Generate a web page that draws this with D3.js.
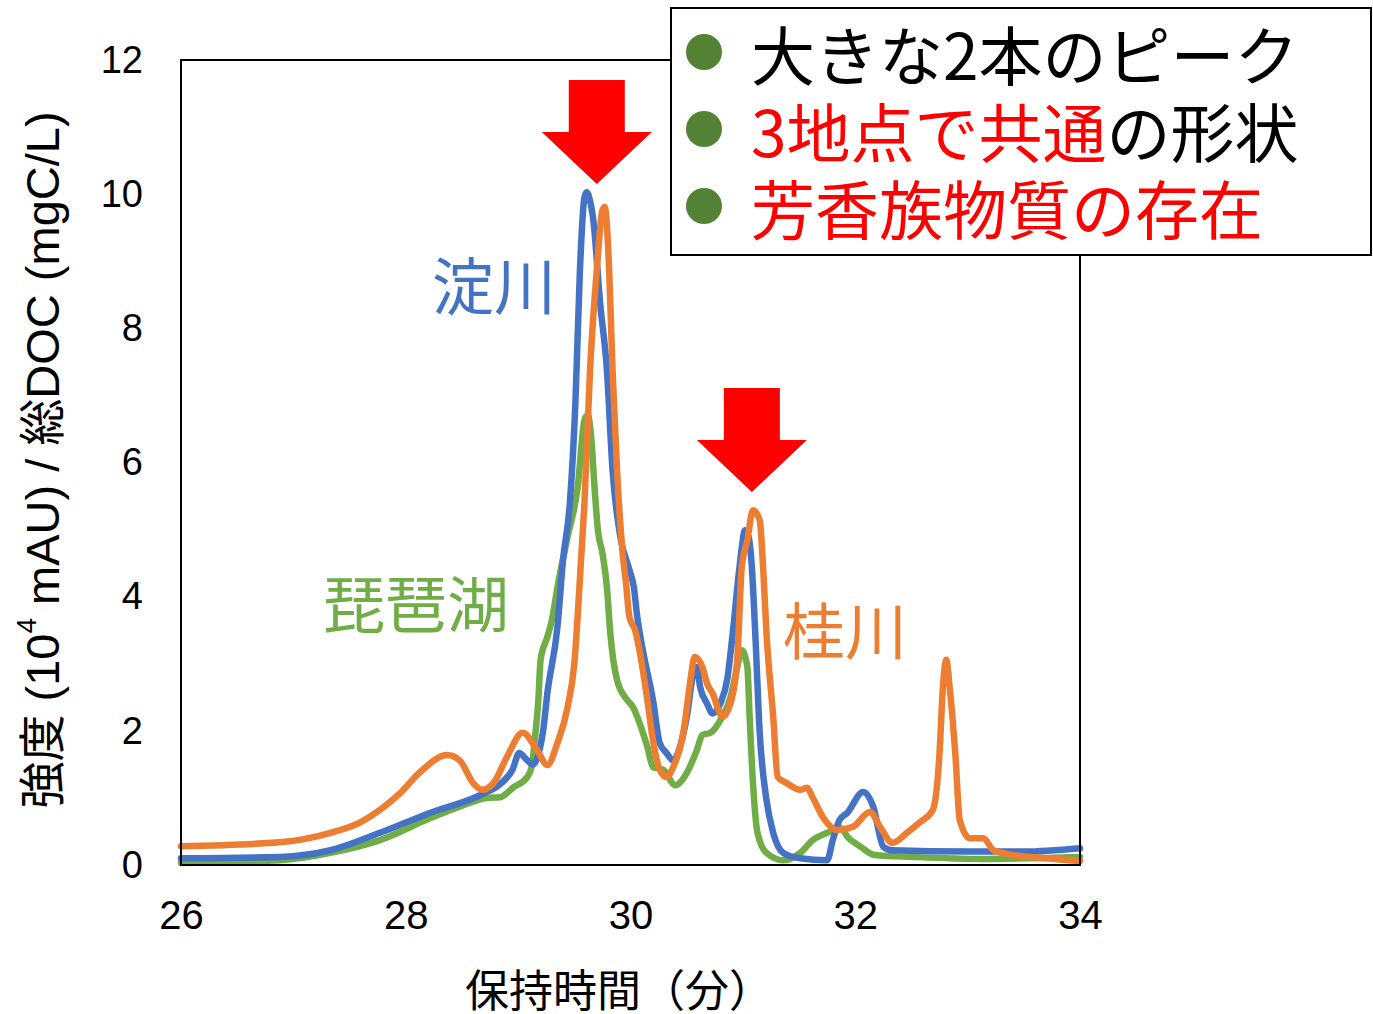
<!DOCTYPE html>
<html>
<head>
<meta charset="utf-8">
<script src="https://cdn.jsdelivr.net/npm/d3@7"></script>
<style>
  html, body { margin: 0; padding: 0; background: #fff; }
  svg { display: block; }
</style>
</head>
<body>
<svg id="chart" width="1373" height="1014"></svg>
<script>
// Retention time (min) and intensity for each sampling site
const yodoTime = [26.00, 26.88, 27.33, 27.77, 28.22, 28.66, 28.85, 28.95, 29.01, 29.07, 29.13, 29.22, 29.26, 29.35, 29.40, 29.46, 29.51, 29.55, 29.59, 29.61, 29.64, 29.67, 29.73, 29.79, 29.84, 29.91, 29.99, 30.03, 30.06, 30.11, 30.20, 30.26, 30.32, 30.38, 30.44, 30.50, 30.56, 30.59, 30.62, 30.68, 30.73, 30.80, 30.86, 30.91, 30.97, 31.02, 31.05, 31.08, 31.11, 31.15, 31.21, 31.27, 31.36, 31.51, 31.75, 31.80, 31.86, 31.93, 32.07, 32.16, 32.25, 32.33, 33.00, 33.50, 34.00];
const yodoValue = [0.10, 0.12, 0.22, 0.48, 0.78, 1.04, 1.22, 1.42, 1.67, 1.58, 1.50, 1.97, 2.56, 3.55, 4.55, 5.39, 6.90, 8.87, 9.95, 10.03, 9.90, 9.60, 8.37, 7.38, 5.89, 4.89, 4.40, 4.14, 3.70, 3.20, 2.46, 1.82, 1.67, 1.56, 1.76, 2.20, 2.86, 2.95, 2.65, 2.41, 2.26, 2.41, 2.76, 3.46, 4.44, 4.99, 4.90, 4.44, 3.46, 1.97, 0.97, 0.48, 0.18, 0.10, 0.07, 0.37, 0.67, 0.78, 1.09, 0.87, 0.27, 0.22, 0.20, 0.20, 0.25];

const katsuraTime = [26.00, 26.88, 27.33, 27.60, 27.77, 27.95, 28.13, 28.37, 28.48, 28.60, 28.68, 28.78, 28.90, 29.04, 29.17, 29.26, 29.35, 29.44, 29.50, 29.56, 29.59, 29.64, 29.70, 29.75, 29.77, 29.81, 29.84, 29.88, 29.93, 29.96, 29.99, 30.04, 30.08, 30.15, 30.20, 30.26, 30.32, 30.38, 30.47, 30.53, 30.57, 30.64, 30.68, 30.73, 30.82, 30.88, 30.95, 30.99, 31.04, 31.09, 31.15, 31.18, 31.21, 31.27, 31.31, 31.39, 31.51, 31.57, 31.62, 31.71, 31.84, 31.98, 32.13, 32.22, 32.33, 32.46, 32.57, 32.69, 32.75, 32.78, 32.81, 32.84, 32.89, 32.93, 33.02, 33.14, 33.23, 33.40, 33.70, 34.00];
const katsuraValue = [0.28, 0.34, 0.48, 0.64, 0.82, 1.07, 1.39, 1.64, 1.56, 1.22, 1.12, 1.22, 1.61, 1.97, 1.71, 1.49, 1.82, 2.35, 3.00, 4.55, 5.39, 7.38, 8.87, 9.76, 9.81, 8.87, 7.38, 5.89, 4.65, 4.20, 3.70, 3.50, 3.20, 2.46, 1.86, 1.42, 1.31, 1.46, 1.97, 2.71, 3.10, 2.95, 2.71, 2.56, 2.21, 2.36, 3.06, 4.44, 4.84, 5.29, 5.14, 4.44, 3.46, 2.21, 1.31, 1.22, 1.12, 1.15, 1.01, 0.72, 0.52, 0.57, 0.79, 0.57, 0.33, 0.48, 0.63, 0.82, 1.67, 2.65, 3.06, 2.65, 1.67, 0.67, 0.40, 0.40, 0.22, 0.15, 0.10, 0.06];

const biwaTime = [26.00, 26.88, 27.33, 27.77, 28.22, 28.48, 28.72, 28.84, 28.96, 29.08, 29.12, 29.15, 29.18, 29.20, 29.26, 29.30, 29.35, 29.44, 29.53, 29.59, 29.62, 29.65, 29.68, 29.71, 29.75, 29.79, 29.82, 29.88, 29.97, 30.02, 30.08, 30.15, 30.20, 30.29, 30.40, 30.50, 30.59, 30.64, 30.71, 30.80, 30.89, 30.95, 30.99, 31.04, 31.06, 31.09, 31.13, 31.21, 31.36, 31.51, 31.62, 31.75, 31.87, 31.93, 32.05, 32.17, 32.52, 33.12, 34.00];
const biwaValue = [0.03, 0.07, 0.18, 0.37, 0.70, 0.87, 1.00, 1.01, 1.16, 1.31, 1.46, 1.90, 2.46, 3.06, 3.40, 3.65, 4.14, 4.89, 5.63, 6.63, 6.71, 6.38, 5.63, 4.99, 4.65, 4.14, 3.46, 2.76, 2.46, 2.36, 2.12, 1.76, 1.46, 1.42, 1.19, 1.37, 1.71, 1.94, 1.97, 2.16, 2.50, 2.95, 3.20, 2.95, 2.21, 1.22, 0.48, 0.18, 0.07, 0.18, 0.37, 0.48, 0.55, 0.42, 0.27, 0.15, 0.12, 0.09, 0.12];

const xTicks = [26, 28, 30, 32, 34];
const yTicks = [0, 2, 4, 6, 8, 10, 12];

const seriesNames = ["琵琶湖", "淀川", "桂川"];
const seriesColors = ["#70AD47", "#4472C4", "#ED7D31"];

// Arrow tips pointing at the two main peaks (time, intensity)
const arrowTips = [[29.70, 10.15], [31.08, 5.56]];

const legendLines = [
  [{ t: "大きな2本のピーク", c: "#000" }],
  [{ t: "3地点で共通", c: "#FF0000" }, { t: "の形状", c: "#000" }],
  [{ t: "芳香族物質の存在", c: "#FF0000" }]
];

const svg = d3.select("#chart");
const margin = { left: 181, top: 60, right: 1080, bottom: 865 };

const x = d3.scaleLinear().domain([26, 34]).range([margin.left, margin.right]);
const y = d3.scaleLinear().domain([0, 12]).range([margin.bottom, margin.top]);

const numFont = "'Liberation Sans', Arial, sans-serif";
const jpFont = "'Noto Sans CJK JP', 'Noto Sans', sans-serif";

// Y axis
const yAxis = svg.append("g")
  .attr("transform", `translate(${margin.left},0)`)
  .call(d3.axisLeft(y).tickValues(yTicks).tickSize(0).tickPadding(38));
yAxis.select(".domain").remove();
yAxis.selectAll("text")
  .attr("font-family", numFont)
  .attr("font-size", 38)
  .attr("fill", "#000");

// X axis
const xAxis = svg.append("g")
  .attr("transform", `translate(0,${margin.bottom})`)
  .call(d3.axisBottom(x).tickValues(xTicks).tickSize(0).tickPadding(0));
xAxis.select(".domain").remove();
xAxis.selectAll("text")
  .attr("y", 50)
  .attr("dy", "0.35em")
  .attr("font-family", numFont)
  .attr("font-size", 40)
  .attr("fill", "#000");

// Series lines
const series = [
  { time: biwaTime, value: biwaValue },
  { time: yodoTime, value: yodoValue },
  { time: katsuraTime, value: katsuraValue }
];
const line = d3.line()
  .x(d => x(d[0]))
  .y(d => y(d[1]))
  .curve(d3.curveMonotoneX);

svg.append("g").selectAll("path")
  .data(series)
  .join("path")
  .attr("d", s => line(s.time.map((t, i) => [t, s.value[i]])))
  .attr("fill", "none")
  .attr("stroke", (s, i) => seriesColors[i])
  .attr("stroke-width", 6.5)
  .attr("stroke-linejoin", "round")
  .attr("stroke-linecap", "round");

// Plot frame
svg.append("rect")
  .attr("x", margin.left)
  .attr("y", margin.top)
  .attr("width", margin.right - margin.left)
  .attr("height", margin.bottom - margin.top)
  .attr("fill", "none")
  .attr("stroke", "#000")
  .attr("stroke-width", 2);

// Inline series labels
const labelPos = [[323, 601], [432, 283], [783, 628]];
svg.append("g").selectAll("text")
  .data(seriesNames)
  .join("text")
  .attr("x", (d, i) => labelPos[i][0])
  .attr("y", (d, i) => labelPos[i][1])
  .attr("dominant-baseline", "central")
  .attr("font-family", jpFont)
  .attr("font-size", 62)
  .attr("fill", (d, i) => seriesColors[i])
  .text(d => d);

// Red arrows
const arrowG = svg.append("g");
arrowTips.forEach(([tx, ty]) => {
  const px = x(tx), py = y(ty);
  const shaftHalf = 28, headHalf = 55, headH = 52, shaftH = 52;
  const pts = [
    [px - shaftHalf, py - headH - shaftH],
    [px + shaftHalf, py - headH - shaftH],
    [px + shaftHalf, py - headH],
    [px + headHalf, py - headH],
    [px, py],
    [px - headHalf, py - headH],
    [px - shaftHalf, py - headH]
  ];
  arrowG.append("polygon")
    .attr("points", pts.map(p => p.join(",")).join(" "))
    .attr("fill", "#FF0000");
});

// Legend box
const lg = svg.append("g");
lg.append("rect")
  .attr("x", 671).attr("y", 8)
  .attr("width", 700).attr("height", 247)
  .attr("fill", "#fff")
  .attr("stroke", "#000")
  .attr("stroke-width", 2);
legendLines.forEach((parts, i) => {
  const cy = 52 + i * 77;
  lg.append("circle")
    .attr("cx", 704).attr("cy", cy).attr("r", 18)
    .attr("fill", "#548235");
  const t = lg.append("text")
    .attr("x", 751).attr("y", cy)
    .attr("dominant-baseline", "central")
    .attr("font-family", jpFont)
    .attr("font-size", 64)
    .attr("fill", parts[0].c);
  parts.forEach(p => t.append("tspan").attr("fill", p.c).text(p.t));
});

// Axis titles
const yTitle = svg.append("text")
  .attr("transform", "translate(42,460) rotate(-90)")
  .attr("text-anchor", "middle")
  .attr("dominant-baseline", "central")
  .attr("font-family", numFont + ", " + jpFont)
  .attr("font-size", 47)
  .attr("fill", "#000");
yTitle.append("tspan").text("強度 (10");
yTitle.append("tspan").attr("font-size", 28).attr("baseline-shift", "super").text("4");
yTitle.append("tspan").text(" mAU) / 総DOC (mgC/L)");

svg.append("text")
  .attr("x", 619).attr("y", 988)
  .attr("text-anchor", "middle")
  .attr("dominant-baseline", "central")
  .attr("font-family", jpFont)
  .attr("font-size", 44)
  .attr("fill", "#000")
  .text("保持時間（分）");
</script>
</body>
</html>
